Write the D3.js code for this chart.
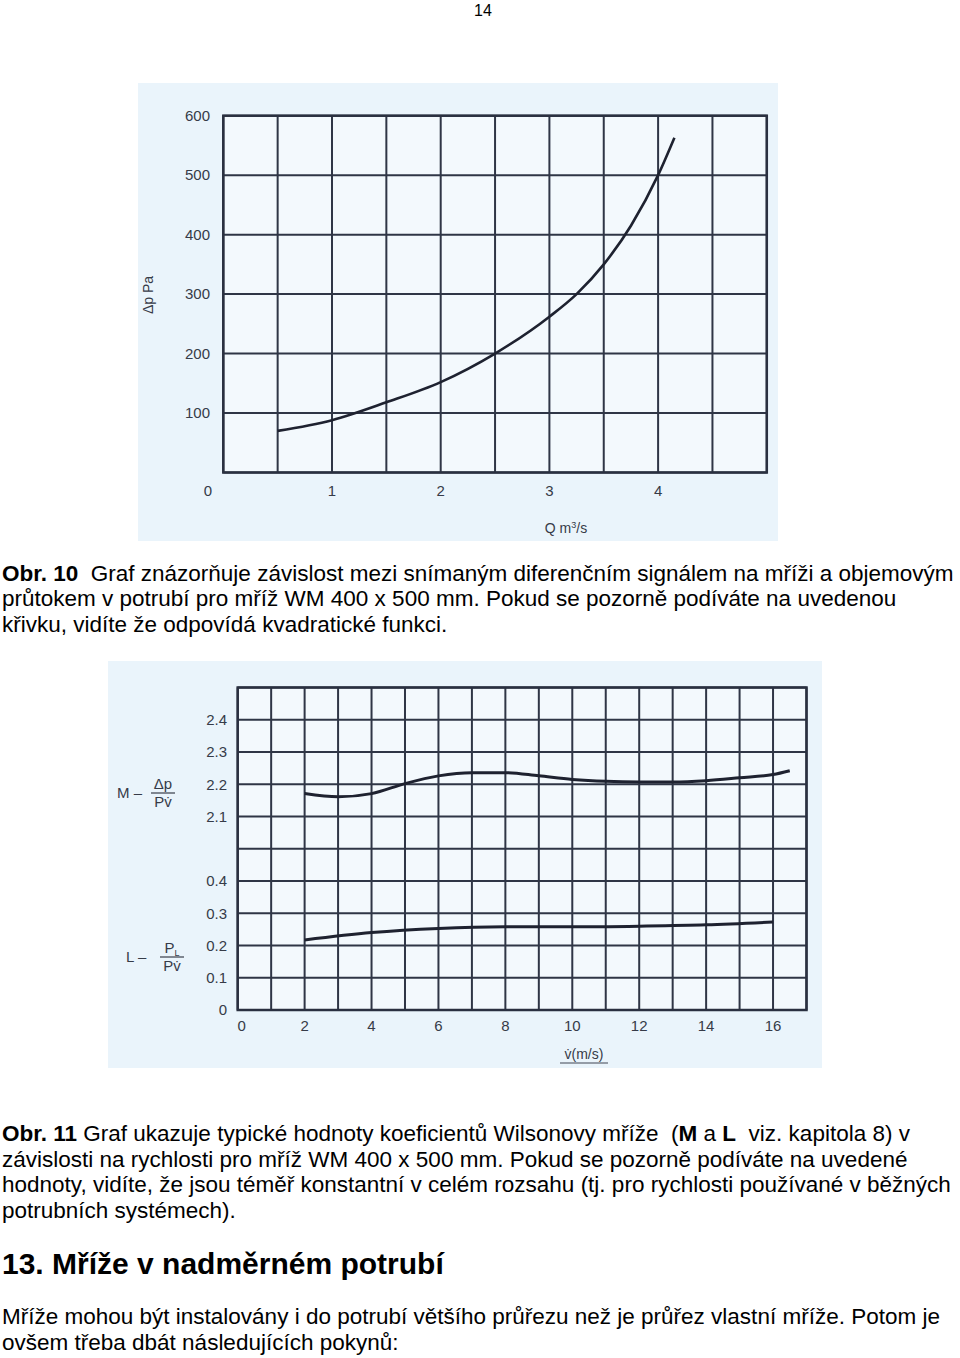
<!DOCTYPE html>
<meta charset="utf-8">
<style>
body { margin: 0; background: #fff; }
svg { display: block; }
text { font-family: "Liberation Sans", Arial, sans-serif; }
.body-text { font-size: 22.5px; fill: #000; white-space: pre; }
.tick { font-size: 15px; fill: #363b48; }
.grid line { stroke: #2f3646; stroke-width: 2px; }
</style>
<svg width="960" height="1358"></svg>
<script src="https://d3js.org/d3.v7.min.js"></script>
<script>

// ---- chart 1: pressure drop vs flow
var qFlow = [0.5, 1, 1.5, 2, 2.5, 3, 3.25, 3.5, 3.75, 4, 4.15];
var dpPa  = [70, 88, 118, 152, 200, 262, 300, 350, 415, 500, 563];
var qTicks  = [1, 2, 3, 4];
var dpTicks = [100, 200, 300, 400, 500, 600];

// ---- chart 2: Wilson grid coefficients vs velocity
var vM    = [2, 3, 4, 5, 6, 7, 8, 9, 10, 11, 12, 13, 14, 15, 16, 16.5];
var mCoef = [2.171, 2.161, 2.171, 2.202, 2.226, 2.236, 2.236, 2.226, 2.215, 2.209, 2.207, 2.207, 2.211, 2.22, 2.23, 2.242];
var vL    = [2, 4, 6, 8, 10, 12, 14, 16];
var lCoef = [0.217, 0.24, 0.253, 0.258, 0.258, 0.26, 0.264, 0.273];
var vTicks = [0, 2, 4, 6, 8, 10, 12, 14, 16];
var mTicks = [2.1, 2.2, 2.3, 2.4];
var lTicks = [0, 0.1, 0.2, 0.3, 0.4];

var svg = d3.select("svg");

svg.append("text")
    .attr("x", 483).attr("y", 16)
    .attr("text-anchor", "middle")
    .style("font-size", "16px")
    .text("14");

// ================= chart 1 =================
var g1 = svg.append("g");
g1.append("rect")
    .attr("x", 138).attr("y", 83).attr("width", 640).attr("height", 458)
    .attr("fill", "#eaf4fb");
g1.append("rect")
    .attr("x", 223).attr("y", 116).attr("width", 544).attr("height", 357)
    .attr("fill", "#f3f9fd");

var x1 = d3.scaleLinear().domain([0, 5]).range([223.3, 766.8]);
var y1 = d3.scaleLinear().domain([0, 600]).range([472.5, 115.7]);

var grid1 = g1.append("g").attr("class", "grid");
grid1.selectAll(".v").data(d3.range(0, 5.01, 0.5)).enter().append("line")
    .attr("x1", d => x1(d)).attr("x2", d => x1(d))
    .attr("y1", y1(0)).attr("y2", y1(600));
grid1.selectAll(".h").data(d3.range(0, 601, 100)).enter().append("line")
    .attr("y1", d => y1(d)).attr("y2", d => y1(d))
    .attr("x1", x1(0)).attr("x2", x1(5));
grid1.append("rect")
    .attr("x", x1(0)).attr("y", y1(600))
    .attr("width", x1(5) - x1(0)).attr("height", y1(0) - y1(600))
    .attr("fill", "none").attr("stroke", "#2a3040").attr("stroke-width", 2.5);

g1.selectAll(".yl").data(dpTicks).enter().append("text")
    .attr("class", "tick")
    .attr("x", 210).attr("y", d => y1(d)).attr("dy", "0.35em")
    .attr("text-anchor", "end")
    .text(d => d);
g1.selectAll(".xl").data(qTicks).enter().append("text")
    .attr("class", "tick")
    .attr("x", d => x1(d)).attr("y", 491).attr("dy", "0.35em")
    .attr("text-anchor", "middle")
    .text(d => d);
g1.append("text").attr("class", "tick")
    .attr("x", 208).attr("y", 491).attr("dy", "0.35em")
    .attr("text-anchor", "middle").text("0");

g1.append("text").attr("class", "tick")
    .attr("transform", "translate(153,295) rotate(-90)")
    .attr("text-anchor", "middle")
    .style("font-size", "14px")
    .text("Δp Pa");
var qt = g1.append("text").attr("class", "tick")
    .attr("x", 566).attr("y", 533)
    .attr("text-anchor", "middle")
    .style("font-size", "14px");
qt.append("tspan").text("Q m");
qt.append("tspan").attr("dy", -5).style("font-size", "9px").text("3");
qt.append("tspan").attr("dy", 5).text("/s");

var line1 = d3.line()
    .x((d, i) => x1(qFlow[i]))
    .y(d => y1(d))
    .curve(d3.curveMonotoneX);
g1.append("path")
    .datum(dpPa)
    .attr("d", line1)
    .attr("fill", "none")
    .attr("stroke", "#1e2230")
    .attr("stroke-width", 2.6);

// ================= chart 2 =================
var g2 = svg.append("g");
g2.append("rect")
    .attr("x", 108).attr("y", 661).attr("width", 714).attr("height", 407)
    .attr("fill", "#eaf4fb");
g2.append("rect")
    .attr("x", 238).attr("y", 687).attr("width", 568).attr("height", 323)
    .attr("fill", "#f3f9fd");

var x2 = d3.scaleLinear().domain([0, 17]).range([237.7, 806.5]);
var yBottom = 1010, yTop = 687.5, row = (yBottom - yTop) / 10;
var yL = d3.scaleLinear().domain([0, 0.5]).range([yBottom, yBottom - 5 * row]);
var yM = d3.scaleLinear().domain([2.0, 2.5]).range([yBottom - 5 * row, yTop]);

var grid2 = g2.append("g").attr("class", "grid");
grid2.selectAll(".v").data(d3.range(0, 18)).enter().append("line")
    .attr("x1", d => x2(d)).attr("x2", d => x2(d))
    .attr("y1", yBottom).attr("y2", yTop);
grid2.selectAll(".hl").data(d3.range(0, 0.51, 0.1)).enter().append("line")
    .attr("y1", d => yL(d)).attr("y2", d => yL(d))
    .attr("x1", x2(0)).attr("x2", x2(17));
grid2.selectAll(".hm").data(d3.range(2.1, 2.51, 0.1)).enter().append("line")
    .attr("y1", d => yM(d)).attr("y2", d => yM(d))
    .attr("x1", x2(0)).attr("x2", x2(17));
grid2.append("rect")
    .attr("x", x2(0)).attr("y", yTop)
    .attr("width", x2(17) - x2(0)).attr("height", yBottom - yTop)
    .attr("fill", "none").attr("stroke", "#2a3040").attr("stroke-width", 2.5);

g2.selectAll(".ml").data(mTicks).enter().append("text")
    .attr("class", "tick")
    .attr("x", 227).attr("y", d => yM(d)).attr("dy", "0.35em")
    .attr("text-anchor", "end")
    .text(d => d.toFixed(1));
g2.selectAll(".ll").data(lTicks).enter().append("text")
    .attr("class", "tick")
    .attr("x", 227).attr("y", d => yL(d)).attr("dy", "0.35em")
    .attr("text-anchor", "end")
    .text(d => d === 0 ? "0" : d.toFixed(1));
g2.selectAll(".vl").data(vTicks).enter().append("text")
    .attr("class", "tick")
    .attr("x", d => x2(d) + (d === 0 ? 4 : 0)).attr("y", 1026).attr("dy", "0.35em")
    .attr("text-anchor", "middle")
    .text(d => d);

// axis title with underline
g2.append("text").attr("class", "tick")
    .attr("x", 584).attr("y", 1059)
    .attr("text-anchor", "middle")
    .style("font-size", "14px")
    .text("v̇(m/s)");
g2.append("line")
    .attr("x1", 560).attr("x2", 608).attr("y1", 1063).attr("y2", 1063)
    .attr("stroke", "#3e4452").attr("stroke-width", 1);

// coefficient labels as fractions
function fraction(x, y, name, num, numSub) {
  var g = g2.append("g").attr("fill", "#363b48").style("font-size", "15px");
  g.append("text").attr("x", x).attr("y", y + 5).text(name + " –");
  var t = g.append("text").attr("x", x + 46).attr("y", y - 4).attr("text-anchor", "middle");
  t.append("tspan").text(num);
  if (numSub) t.append("tspan").attr("dy", 3).style("font-size", "9px").text(numSub);
  g.append("line").attr("x1", x + 34).attr("x2", x + 58).attr("y1", y).attr("y2", y)
    .attr("stroke", "#363b48").attr("stroke-width", 1.2);
  g.append("text").attr("x", x + 46).attr("y", y + 14).attr("text-anchor", "middle").text("Pv̇");
}
fraction(117, 793, "M", "Δp", null);
fraction(126, 957, "L", "P", "L");

var lineM = d3.line()
    .x((d, i) => x2(vM[i]))
    .y(d => yM(d))
    .curve(d3.curveMonotoneX);
var lineL = d3.line()
    .x((d, i) => x2(vL[i]))
    .y(d => yL(d))
    .curve(d3.curveMonotoneX);
g2.append("path").datum(mCoef).attr("d", lineM)
    .attr("fill", "none").attr("stroke", "#1e2230").attr("stroke-width", 3);
g2.append("path").datum(lCoef).attr("d", lineL)
    .attr("fill", "none").attr("stroke", "#1e2230").attr("stroke-width", 3);

// ================= text =================
function para(lines, y0, lh) {
  lines.forEach(function(parts, i) {
    var t = svg.append("text").attr("class", "body-text")
        .attr("x", 2).attr("y", y0 + i * lh);
    parts.forEach(function(p) {
      var s = t.append("tspan").text(p[0]);
      if (p[1]) s.style("font-weight", "bold");
    });
  });
}

para([
  [["Obr. 10", 1], ["  Graf znázorňuje závislost mezi snímaným diferenčním signálem na mříži a objemovým"]],
  [["průtokem v potrubí pro mříž WM 400 x 500 mm. Pokud se pozorně podíváte na uvedenou"]],
  [["křivku, vidíte že odpovídá kvadratické funkci."]]
], 580.5, 25.7);

para([
  [["Obr. 11", 1], [" Graf ukazuje typické hodnoty koeficientů Wilsonovy mříže  ("], ["M", 1], [" a "], ["L", 1], ["  viz. kapitola 8) v"]],
  [["závislosti na rychlosti pro mříž WM 400 x 500 mm. Pokud se pozorně podíváte na uvedené"]],
  [["hodnoty, vidíte, že jsou téměř konstantní v celém rozsahu (tj. pro rychlosti používané v běžných"]],
  [["potrubních systémech)."]]
], 1141, 25.7);

svg.append("text")
    .attr("x", 2).attr("y", 1274)
    .style("font-size", "30px").style("font-weight", "bold")
    .text("13. Mříže v nadměrném potrubí");

para([
  [["Mříže mohou být instalovány i do potrubí většího průřezu než je průřez vlastní mříže. Potom je"]],
  [["ovšem třeba dbát následujících pokynů:"]]
], 1324, 26);

</script>
